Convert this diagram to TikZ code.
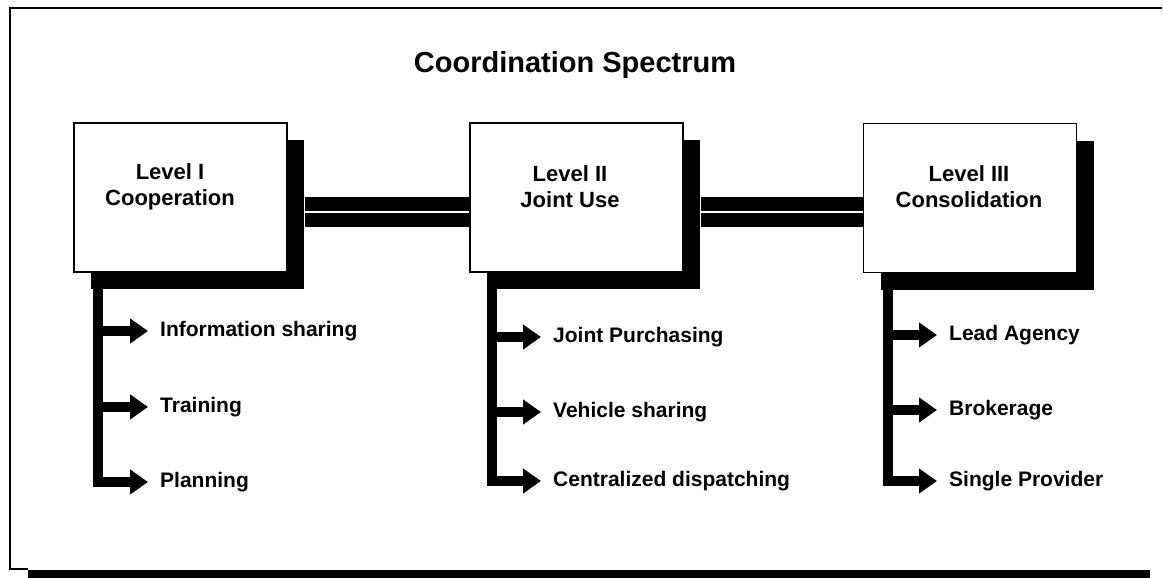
\documentclass[tikz,border=0pt]{standalone}
\usepackage{fontspec}
\setmainfont{Liberation Sans}
\usetikzlibrary{arrows.meta,shadows}
\tikzset{
  box/.style={draw,line width=1.2pt,fill=white,minimum width=213pt,minimum height=149pt,
    drop shadow={fill=black,opacity=1,shadow xshift=17pt,shadow yshift=-17pt}},
  boxtext/.style={inner sep=0pt,align=center,font=\fontsize{22}{26}\selectfont\bfseries},
  item/.style={anchor=west,inner sep=0pt,font=\fontsize{21}{25}\selectfont\bfseries},
  link/.style={line width=14pt,double=white,double distance=2pt},
  stem/.style={line width=10pt,line cap=rect},
  arr/.style={line width=10pt,-{Triangle[length=18pt,width=24pt]},shorten >=12pt}
}
\begin{document}
\begin{tikzpicture}[x=1pt,y=-1pt]
\useasboundingbox (0,0) rectangle (1163,578);
\draw[line width=1.6pt](1162,8)--(10,8)--(10,569)--(28,569);
\fill(28,570) rectangle (1150,578);

\node[font=\fontsize{29}{35}\selectfont\bfseries] (title) at (575,65) {Coordination Spectrum};

\node[box] (l1) at (180.5,197.5) {};
\node[box] (l2) at (576.5,197.5) {};
\node[box] (l3) at (970,198) {};
\node[boxtext] (t1) at (170,187) {Level I\\Cooperation};
\node[boxtext] (t2) at (570,187) {Level II\\Joint Use};
\node[boxtext] (t3) at (969,187) {Level III\\Consolidation};

\draw[link]([shift={(17,14.5)}]l1.east)--([shift={(0,14.5)}]l2.west);
\draw[link]([shift={(17,14.5)}]l2.east)--([shift={(0,14)}]l3.west);

\coordinate (s1) at ([shift={(25,17)}]l1.south west);
\coordinate (s2) at ([shift={(23,17)}]l2.south west);
\coordinate (s3) at ([shift={(25,17)}]l3.south west);

\node[item] (i11) at (160,331) {Information sharing};
\node[item] (i12) at (160,407) {Training};
\node[item] (i13) at (160,482) {Planning};
\draw[stem](s1)--(s1 |- i13.west);
\draw[arr](s1 |- i11.west)--(i11.west);
\draw[arr](s1 |- i12.west)--(i12.west);
\draw[arr](s1 |- i13.west)--(i13.west);

\node[item] (i21) at (553,337) {Joint Purchasing};
\node[item] (i22) at (553,412) {Vehicle sharing};
\node[item] (i23) at (553,481) {Centralized dispatching};
\draw[stem](s2)--(s2 |- i23.west);
\draw[arr](s2 |- i21.west)--(i21.west);
\draw[arr](s2 |- i22.west)--(i22.west);
\draw[arr](s2 |- i23.west)--(i23.west);

\node[item] (i31) at (949,335) {Lead Agency};
\node[item] (i32) at (949,410) {Brokerage};
\node[item] (i33) at (949,481) {Single Provider};
\draw[stem](s3)--(s3 |- i33.west);
\draw[arr](s3 |- i31.west)--(i31.west);
\draw[arr](s3 |- i32.west)--(i32.west);
\draw[arr](s3 |- i33.west)--(i33.west);
\end{tikzpicture}
\end{document}
